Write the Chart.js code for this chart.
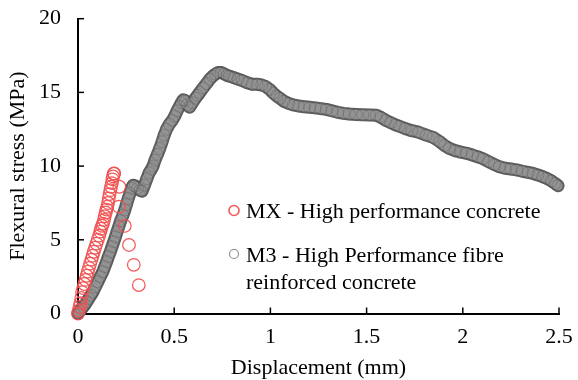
<!DOCTYPE html>
<html>
<head>
<meta charset="utf-8">
<script src="https://cdn.jsdelivr.net/npm/chart.js@4/dist/chart.umd.min.js"></script>
<style>
  html, body { margin: 0; padding: 0; background: #ffffff; }
  canvas { display: block; }
</style>
</head>
<body>
<canvas id="c" width="578" height="380"></canvas>
<script>
// ---------- data ----------
const seriesNames = ['MX - High performance concrete', 'M3 - High Performance fibre reinforced concrete'];
const legendLines = [['MX - High performance concrete'], ['M3 - High Performance fibre', 'reinforced concrete']];

// MX (red) displacement (mm) / flexural stress (MPa)
const mxDisp = [0, 0.004, 0.008, 0.012, 0.017, 0.021, 0.027, 0.033, 0.039, 0.045, 0.051, 0.057, 0.063, 0.07, 0.076, 0.082,
  0.089, 0.096, 0.103, 0.11, 0.116, 0.12, 0.125, 0.13, 0.135, 0.139, 0.144, 0.148, 0.152, 0.156, 0.16, 0.164, 0.168,
  0.172, 0.176, 0.179, 0.182, 0.186, 0.188, 0.215, 0.213, 0.243, 0.265, 0.29, 0.316];
const mxStress = [0, 0.2, 0.45, 0.7, 1.05, 1.45, 1.72, 2.0, 2.28, 2.56, 2.84, 3.1, 3.38, 3.65, 3.92, 4.19,
  4.46, 4.74, 5.01, 5.28, 5.55, 5.75, 5.95, 6.1, 6.35, 6.6, 6.85, 7.05, 7.24, 7.5, 7.8, 8.1, 8.37,
  8.6, 8.85, 9.1, 9.3, 9.48, 9.5, 8.6, 7.25, 5.94, 4.65, 3.3, 1.93];

// M3 (grey) displacement (mm) / flexural stress (MPa)
const m3Disp = [0, 0.009, 0.018, 0.027, 0.035, 0.046, 0.056, 0.067, 0.077, 0.09, 0.103, 0.116, 0.129, 0.139, 0.149, 0.158,
  0.168, 0.177, 0.186, 0.195, 0.203, 0.212, 0.222, 0.233, 0.243, 0.252, 0.261, 0.27, 0.278, 0.286, 0.297, 0.31, 0.322,
  0.333, 0.345, 0.358, 0.37, 0.382, 0.39, 0.4, 0.413, 0.425, 0.437, 0.448, 0.46, 0.475, 0.49, 0.503, 0.515, 0.527, 0.537,
  0.547, 0.557, 0.567, 0.58, 0.595, 0.61, 0.622, 0.633, 0.65, 0.668, 0.685, 0.7, 0.715, 0.728, 0.745, 0.76, 0.775, 0.788,
  0.81, 0.832, 0.854, 0.88, 0.905, 0.93, 0.955, 0.975, 0.996, 1.015, 1.033, 1.05, 1.07, 1.095, 1.118, 1.145, 1.175, 1.204,
  1.233, 1.262, 1.29, 1.32, 1.35, 1.38, 1.41, 1.445, 1.48, 1.515, 1.55, 1.575, 1.6, 1.625, 1.65, 1.67, 1.7, 1.735, 1.77,
  1.81, 1.845, 1.88, 1.905, 1.93, 1.96, 1.99, 2.02, 2.05, 2.08, 2.105, 2.135, 2.165, 2.19, 2.22, 2.25, 2.28, 2.31, 2.34,
  2.365, 2.39, 2.415, 2.435, 2.46, 2.48, 2.495];
const m3Stress = [0, 0.15, 0.3, 0.45, 0.58, 0.8, 1.02, 1.24, 1.45, 1.8, 2.15, 2.5, 2.84, 3.18, 3.52, 3.86,
  4.19, 4.53, 4.87, 5.21, 5.55, 5.9, 6.3, 6.65, 7.02, 7.4, 7.8, 8.15, 8.5, 8.7, 8.65, 8.5, 8.35,
  8.3, 8.7, 9.15, 9.55, 9.8, 10.0, 10.4, 10.8, 11.2, 11.65, 12.1, 12.5, 12.85, 13.1, 13.4, 13.75, 14.05, 14.3,
  14.5, 14.45, 14.15, 14.0, 14.3, 14.6, 14.8, 15.0, 15.3, 15.6, 15.9, 16.1, 16.25, 16.35, 16.35, 16.25, 16.15, 16.1,
  16.0, 15.9, 15.8, 15.65, 15.55, 15.55, 15.5, 15.4, 15.2, 14.95, 14.75, 14.6, 14.4, 14.25, 14.15, 14.08, 14.03, 13.99,
  13.95, 13.9, 13.85, 13.75, 13.65, 13.58, 13.53, 13.5, 13.48, 13.47, 13.45, 13.3, 13.1, 12.95, 12.8, 12.7, 12.55, 12.4, 12.3,
  12.1, 11.95, 11.66, 11.4, 11.2, 11.05, 10.95, 10.87, 10.75, 10.62, 10.5, 10.3, 10.1, 9.96, 9.85, 9.8, 9.74, 9.65, 9.57,
  9.5, 9.4, 9.28, 9.17, 9.0, 8.82, 8.67];

const xTicks = [0, 0.5, 1, 1.5, 2, 2.5];
const yTicks = [0, 5, 10, 15, 20];
const xTitle = 'Displacement (mm)';
const yTitle = 'Flexural stress (MPa)';

// ---------- build ----------
const toPts = (xs, ys) => xs.map((x, i) => ({ x: x, y: ys[i] }));
const FONT = '"Liberation Serif", "Times New Roman", serif';
const FS = 22;
const RED = 'rgba(242,80,80,0.95)';

const innerTicks = {
  id: 'innerTicks',
  afterDatasetsDraw(chart) {
    const { ctx, chartArea, scales } = chart;
    ctx.save();
    ctx.strokeStyle = '#000';
    ctx.lineWidth = 1.5;
    scales.x.ticks.forEach(t => {
      const px = scales.x.getPixelForValue(t.value);
      if (px <= chartArea.left + 1) return;
      ctx.beginPath(); ctx.moveTo(px, chartArea.bottom); ctx.lineTo(px, chartArea.bottom - 6); ctx.stroke();
    });
    scales.y.ticks.forEach(t => {
      const py = scales.y.getPixelForValue(t.value);
      if (py >= chartArea.bottom - 1) return;
      ctx.beginPath(); ctx.moveTo(chartArea.left, py); ctx.lineTo(chartArea.left + 6, py); ctx.stroke();
    });
    ctx.restore();
  }
};

const customLegend = {
  id: 'customLegend',
  afterDraw(chart) {
    const { ctx } = chart;
    ctx.save();
    ctx.font = FS + 'px ' + FONT;
    ctx.fillStyle = '#000';
    ctx.textBaseline = 'alphabetic';
    ctx.textAlign = 'left';
    const entries = [
      { color: RED, lines: legendLines[0], baseline: 218, r: 5, lw: 1.6 },
      { color: '#888888', lines: legendLines[1], baseline: 261.5, r: 4.5, lw: 1.1 }
    ];
    entries.forEach(e => {
      ctx.beginPath();
      ctx.arc(234, e.baseline - 7.5, e.r, 0, Math.PI * 2);
      ctx.strokeStyle = e.color;
      ctx.lineWidth = e.lw;
      ctx.stroke();
      e.lines.forEach((ln, i) => ctx.fillText(ln, 246, e.baseline + i * 27.5));
    });
    ctx.restore();
  }
};

new Chart(document.getElementById('c'), {
  type: 'scatter',
  data: {
    datasets: [
      {
        label: seriesNames[0],
        data: toPts(mxDisp, mxStress),
        showLine: false,
        pointRadius: 6.3,
        pointBorderWidth: 1.25,
        pointBorderColor: RED,
        pointBackgroundColor: 'rgba(0,0,0,0)',
        clip: false
      },
      {
        label: seriesNames[1],
        data: toPts(m3Disp, m3Stress),
        showLine: true,
        borderColor: '#939393',
        borderWidth: 9,
        borderJoinStyle: 'round',
        borderCapStyle: 'round',
        pointRadius: 6,
        pointBorderWidth: 0.8,
        pointBorderColor: 'rgba(60,60,60,0.3)',
        pointBackgroundColor: 'rgba(0,0,0,0)',
        clip: false
      },
      {
        label: seriesNames[1] + ' (outline)',
        data: toPts(m3Disp, m3Stress),
        showLine: true,
        borderColor: '#666666',
        borderWidth: 13,
        borderJoinStyle: 'round',
        borderCapStyle: 'round',
        pointRadius: 0,
        clip: false
      }
    ]
  },
  options: {
    responsive: false,
    animation: false,
    devicePixelRatio: 1,
    layout: { padding: { top: 18.7, right: 19, bottom: 0, left: 0 } },
    plugins: { legend: { display: false }, tooltip: { enabled: false } },
    scales: {
      x: {
        type: 'linear', min: 0, max: 2.5,
        afterBuildTicks(s) { s.ticks = xTicks.map(v => ({ value: v })); },
        afterFit(s) { s.height = 66.5; s.paddingLeft = 0; s.paddingRight = 0; },
        grid: { display: false, drawTicks: false },
        border: { display: true, color: '#000', width: 2 },
        ticks: { color: '#000', padding: 11, maxRotation: 0, font: { family: FONT, size: FS }, callback: v => String(v) },
        title: { display: true, text: xTitle, color: '#000', font: { family: FONT, size: FS, lineHeight: 1 }, padding: { top: 0, bottom: 1 } }
      },
      y: {
        type: 'linear', min: 0, max: 20,
        afterBuildTicks(s) { s.ticks = yTicks.map(v => ({ value: v })); },
        afterFit(s) { s.width = 78; s.paddingTop = 0; s.paddingBottom = 0; },
        grid: { display: false, drawTicks: false },
        border: { display: true, color: '#000', width: 2 },
        ticks: { color: '#000', padding: 17, font: { family: FONT, size: FS }, callback: v => String(v) },
        title: { display: true, text: yTitle, color: '#000', font: { family: FONT, size: FS, lineHeight: 1 }, padding: { top: 7, bottom: 0 } }
      }
    }
  },
  plugins: [innerTicks, customLegend]
});
</script>
</body>
</html>
